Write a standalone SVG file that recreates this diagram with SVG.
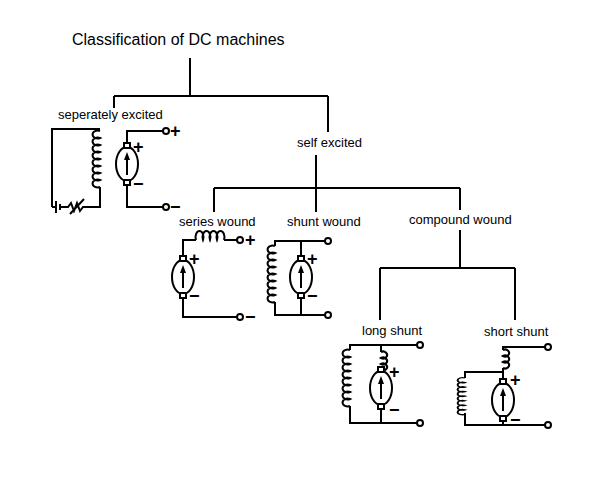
<svg xmlns="http://www.w3.org/2000/svg" width="600" height="486" viewBox="0 0 600 486">
<style>
.w{fill:none;stroke:#000;stroke-width:2}
.t{font-family:"Liberation Sans",Arial,sans-serif;font-size:13px;fill:#000}
.p{font-family:"Liberation Sans",Arial,sans-serif;font-size:18px;font-weight:bold;fill:#000}
.s{font-family:"Liberation Sans",Arial,sans-serif;font-size:16px;fill:#000}
.term{fill:#fff;stroke:#000;stroke-width:2}
</style>
<defs>
<g id="gen">
<ellipse cx="0" cy="0" rx="11" ry="17" class="w"/>
<rect x="-3" y="-21" width="6" height="5" class="term"/>
<rect x="-3" y="16" width="6" height="5" class="term"/>
<path d="M0,11 V-7" class="w"/>
<path d="M-3,-4 L0,-12 L3,-4 Z" fill="#000"/>
</g>
<path id="vc" d="M0,0 a5,4 0 1 0 0,7 a5,4 0 1 0 0,7 a5,4 0 1 0 0,7 a5,4 0 1 0 0,7 a5,4 0 1 0 0,7 a5,4 0 1 0 0,7 a5,4 0 1 0 0,7 a5,4 0 1 0 0,7" class="w"/>
<path id="hc" d="M0,0 a4,6 0 1 1 7,0 a4,6 0 1 1 7,0 a4,6 0 1 1 7,0 a4,6 0 1 1 7,0" class="w"/>
<path id="sc" d="M0,0 a4,3.5 0 1 1 0,6 a4,3.5 0 1 1 0,6 a4,3.5 0 1 1 0,6" class="w"/>
</defs>
<text x="72" y="45" class="s">Classification of DC machines</text>
<g id="connectors" class="w">
<path d="M190,58 V96 M114,96 H328 M114,96 V108 M328,96 V132"/>
<path d="M316,155 V188 M214,188 H460 M214,188 V212 M316,188 V212 M460,188 V210"/>
<path d="M460,230 V268 M380,268 H515 M380,268 V320 M515,268 V320"/>
</g>
<g id="self">
<text x="297" y="147" class="t">self excited</text>
</g>
<g id="sep">
<text x="58" y="119" class="t">seperately excited</text>
<path d="M52,207 V129 H100 M100,187 V207 H88 M52,207 H56 M56,201 V213 M60,204 V210 M60,207 H68 l3,-4 l3,8 l3,-8 l3,8 l3,-4 H88 M70,214 L84,199" class="w"/>
<use href="#vc" x="100" y="131"/>
<use href="#gen" x="127" y="164"/>
<path d="M127,143 V131 H163 M127,185 V207 H163" class="w"/>
<circle cx="166" cy="131" r="3" class="term"/><circle cx="166" cy="207" r="3" class="term"/>
<text x="170" y="137" class="p">+</text><text x="170" y="213" class="p">−</text>
<text x="133" y="153" class="p">+</text><text x="133" y="190" class="p">−</text>
</g>
<g id="series">
<text x="179" y="226" class="t">series wound</text>
<path d="M183,256 V240 H196 M224,240 H237 M183,298 V317 H237" class="w"/>
<use href="#hc" x="196" y="240"/>
<use href="#gen" x="183" y="277"/>
<circle cx="240" cy="240" r="3" class="term"/><circle cx="240" cy="317" r="3" class="term"/>
<text x="245" y="246" class="p">+</text><text x="245" y="323" class="p">−</text>
<text x="189" y="265" class="p">+</text><text x="189" y="302" class="p">−</text>
</g>
<g id="shunt">
<text x="287" y="226" class="t">shunt wound</text>
<path d="M275,246 V241 H325 M275,302 V315 H325 M301,241 V256 M301,298 V315" class="w"/>
<use href="#vc" x="275" y="246"/>
<use href="#gen" x="301" y="277"/>
<circle cx="328" cy="241" r="3" class="term"/><circle cx="328" cy="315" r="3" class="term"/>
<text x="307" y="265" class="p">+</text><text x="307" y="302" class="p">−</text>
</g>
<g id="compound">
<text x="409" y="224" class="t">compound wound</text>
</g>
<g id="long">
<text x="362" y="335" class="t">long shunt</text>
<path d="M350,350 V345 H417 M350,406 V423 H417 M381,345 V352 M381,370 V367 M381,409 V423" class="w"/>
<use href="#vc" x="350" y="350"/>
<use href="#sc" x="381" y="352"/>
<use href="#gen" x="381" y="388"/>
<circle cx="420" cy="345" r="3" class="term"/><circle cx="420" cy="423" r="3" class="term"/>
<text x="389" y="378" class="p">+</text><text x="389" y="416" class="p">−</text>
</g>
<g id="short">
<text x="484" y="336" class="t">short shunt</text>
<path d="M503,350 V347 H545 M503,368 V379 M465,378 V372 H503 M465,413 V425 H545 M503,421 V425" class="w"/>
<use href="#vc" x="465" y="378" transform="translate(465,378) scale(1,0.65) translate(-465,-378)"/>
<use href="#sc" x="503" y="350"/>
<use href="#gen" x="503" y="400"/>
<circle cx="548" cy="347" r="3" class="term"/><circle cx="548" cy="425" r="3" class="term"/>
<text x="510" y="386" class="p">+</text><text x="510" y="426" class="p">−</text>
</g>
</svg>
